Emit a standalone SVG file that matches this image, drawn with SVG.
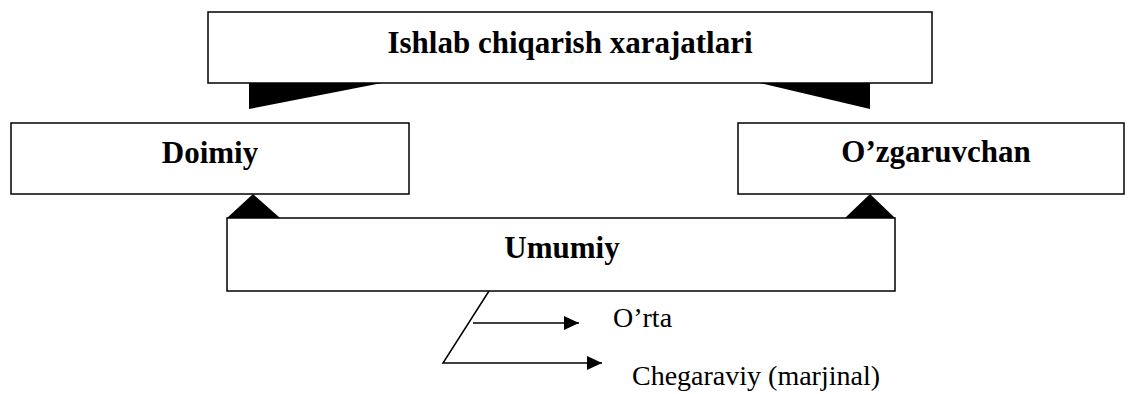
<svg xmlns="http://www.w3.org/2000/svg" width="1136" height="394" viewBox="0 0 1136 394">
<style>
.box{fill:#fff;stroke:#000;stroke-width:1.5}
.t{font-family:"Liberation Serif","Times New Roman",serif;font-weight:bold;font-size:31px;text-anchor:middle}
.s{font-family:"Liberation Serif","Times New Roman",serif;font-size:28px}
.ln{fill:none;stroke:#000;stroke-width:1.5}
</style>
<defs>
<marker id="ah" markerWidth="15" markerHeight="14" refX="15" refY="7" orient="auto" markerUnits="userSpaceOnUse">
<path d="M0,0 L15,7 L0,14 Z" fill="#000"/>
</marker>
</defs>
<g id="connectors">
<polygon points="249,83 382,83 249,109" fill="#000"/>
<polygon points="760,83 870,83 870,109" fill="#000"/>
<polygon points="253,194 227,218 280,218" fill="#000"/>
<polygon points="870,194 845,218 895,218" fill="#000"/>
<polyline class="ln" points="489,291 443,363 602,363" marker-end="url(#ah)"/>
<line class="ln" x1="473" y1="323" x2="579" y2="323" marker-end="url(#ah)"/>
</g>
<g id="top">
<rect class="box" x="208" y="12" width="724" height="71"/>
<text class="t" x="570" y="53">Ishlab chiqarish xarajatlari</text>
</g>
<g id="doimiy">
<rect class="box" x="11" y="123" width="398" height="71"/>
<text class="t" x="210" y="163">Doimiy</text>
</g>
<g id="ozgaruvchan">
<rect class="box" x="738" y="123" width="386" height="71"/>
<text class="t" x="936" y="162">O’zgaruvchan</text>
</g>
<g id="umumiy">
<rect class="box" x="227" y="218" width="668" height="73"/>
<text class="t" x="562" y="258">Umumiy</text>
</g>
<g id="labels">
<text class="s" x="613" y="327">O’rta</text>
<text class="s" x="632" y="385">Chegaraviy (marjinal)</text>
</g>
</svg>
